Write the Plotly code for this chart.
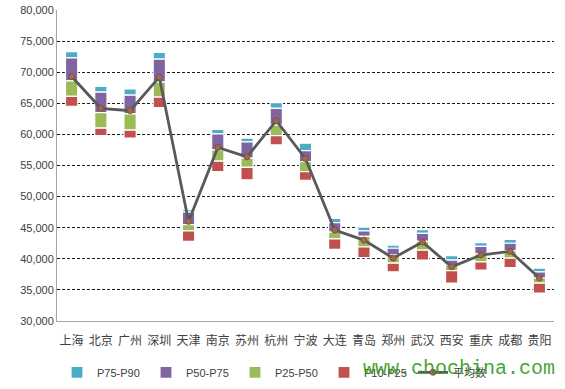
import plotly.graph_objects as go

cities = ['上海', '北京', '广州', '深圳', '天津', '南京', '苏州', '杭州', '宁波',
          '大连', '青岛', '郑州', '武汉', '西安', '重庆', '成都', '贵阳']
p10 = [64500, 59800, 59400, 64300, 42800, 54000, 52700, 58300, 52600,
       41500, 40200, 37900, 39800, 36100, 38200, 38600, 34500]
p25 = [66100, 61000, 60700, 66000, 44500, 55700, 54700, 59800, 54000,
       43200, 41900, 39300, 41400, 38100, 39500, 40100, 36100]
p50 = [68600, 63500, 63300, 68400, 45500, 57500, 56200, 61500, 55600,
       44300, 43600, 40600, 42800, 39000, 40800, 41300, 36900]
p75 = [72300, 66800, 66300, 72100, 47500, 60100, 58800, 64200, 57400,
       45800, 44500, 41700, 44100, 39800, 42000, 42500, 37900]
p90 = [73300, 67700, 67300, 73200, 47900, 60800, 59400, 65100, 58600,
       46500, 45100, 42200, 44700, 40500, 42600, 43100, 38500]
avg = [69300, 64200, 63800, 69200, 46000, 57900, 56400, 62200, 56100,
       44600, 43000, 40100, 42700, 38700, 40600, 41200, 36900]

series_names = ['P75-P90', 'P50-P75', 'P25-P50', 'P10-P25', '平均数']
colors = ['#4BACC6', '#8064A2', '#9BBB59', '#C0504D']

lows = [p75, p50, p25, p10]
highs = [p90, p75, p50, p25]

fig = go.Figure()
for name, col, lo, hi in zip(series_names[:4], colors, lows, highs):
    fig.add_trace(go.Bar(
        x=cities, y=[h - l for h, l in zip(hi, lo)], base=lo, name=name,
        marker=dict(color=col, line=dict(color='white', width=1.2)),
        width=0.42, hoverinfo='skip'))

fig.add_trace(go.Scatter(
    x=cities, y=avg, name=series_names[4], mode='lines+markers',
    line=dict(color='#595959', width=2.8),
    marker=dict(symbol='circle', size=6, color='#9C6B4E',
                line=dict(color='#7A4A35', width=0.8))))

FONT = 'Liberation Sans, Noto Sans CJK SC, sans-serif'
fig.update_layout(
    width=565, height=389,
    margin=dict(l=57, r=11, t=10, b=68, autoexpand=False),
    paper_bgcolor='white', plot_bgcolor='white',
    barmode='overlay', showlegend=True,
    font=dict(family=FONT, size=11, color='#404040'),
    legend=dict(orientation='h', x=0.0, xanchor='left', y=-0.165, yanchor='middle',
                traceorder='normal', entrywidth=44, entrywidthmode='pixels',
                font=dict(size=11, family=FONT), itemwidth=30,
                bgcolor='rgba(0,0,0,0)'),
    xaxis=dict(showline=True, linecolor='#A6A6A6', linewidth=1, showgrid=False,
               range=[-0.5, len(cities) - 0.5],
               ticks='', ticklabelstandoff=9,
               tickfont=dict(size=12, family='Noto Sans CJK SC', color='#404040'),
               fixedrange=True, automargin=False),
    yaxis=dict(range=[30000, 80000], dtick=5000, tickformat=',d',
               showgrid=True, gridcolor='#1A1A1A', gridwidth=1, griddash='3px,2px',
               showline=True, linecolor='#A6A6A6', linewidth=1, zeroline=False,
               ticks='', tickfont=dict(size=11, family=FONT, color='#404040'),
               fixedrange=True, automargin=False),
    annotations=[dict(text='www.chochina.com', xref='paper', yref='paper',
                      x=1.006, y=-0.154, xanchor='right', yanchor='middle', showarrow=False,
                      font=dict(family='Liberation Mono, monospace', size=20,
                                color='rgba(50,155,25,0.92)'))]
)

fig.write_html('out.html', config={'displayModeBar': False},
               post_script="document.body.style.margin='0';")
